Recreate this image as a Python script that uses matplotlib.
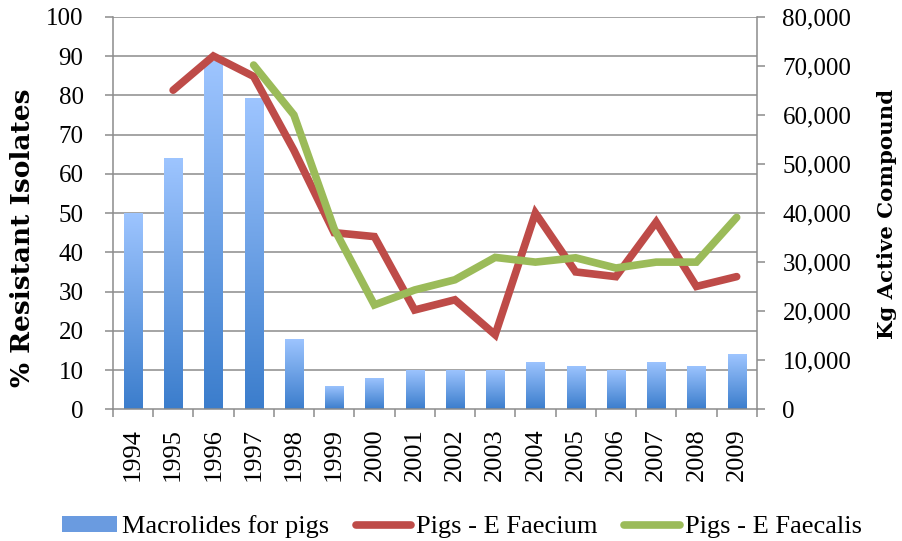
import matplotlib
matplotlib.use("Agg")
import matplotlib.pyplot as plt
from matplotlib.colors import LinearSegmentedColormap
from matplotlib.patches import Patch
from matplotlib.lines import Line2D
from matplotlib.ticker import FuncFormatter
import numpy as np

years = [str(y) for y in range(1994, 2010)]
macrolides_kg = [40000, 51200, 70900, 63400, 14400, 4800, 6400, 8000,
                 8000, 8000, 9600, 8800, 8000, 9600, 8800, 11200]
faecium_pct = [np.nan, 81.3, 90, 84.8, 66, 45, 44, 25.3,
               27.9, 19, 50, 35, 33.8, 47.7, 31.3, 33.8]
faecalis_pct = [np.nan, np.nan, np.nan, 87.7, 75, 46, 26.6, 30.4,
                33, 38.7, 37.5, 38.6, 36, 37.5, 37.5, 48.9]

plt.rcParams['font.family'] = ['Liberation Serif', 'DejaVu Serif']
grey = '#8c8c8c'
red = '#be4b48'
green = '#9bbb59'

fig = plt.figure(figsize=(9.02, 5.41), dpi=100)
ax = fig.add_axes([0.125, 0.2434, 0.714, 0.7256])
ax2 = ax.twinx()
ax.set_zorder(2)
ax2.set_zorder(1)
ax.patch.set_visible(False)

x = np.arange(len(years))

# grid lines follow the left (%) axis, drawn under the bars
for v in range(10, 101, 10):
    ax2.axhline(v * 800, color=grey, lw=1.1, zorder=0.5)

bars = ax2.bar(x, macrolides_kg, width=0.45, color='none', zorder=1)
cmap = LinearSegmentedColormap.from_list('bb', ['#3b7dcc', '#9ec5ff'])
grad = np.linspace(1, 0, 256).reshape(-1, 1)
for p in bars.patches:
    x0, w, h = p.get_x(), p.get_width(), p.get_height()
    im = ax2.imshow(grad, extent=[x0, x0 + w, 0, h], origin='upper',
                    aspect='auto', cmap=cmap, zorder=1)
    im.set_clip_path(p)

ax.plot(x, faecium_pct, color=red, lw=5.5, solid_capstyle='round',
        solid_joinstyle='miter')
ax.plot(x, faecalis_pct, color=green, lw=5.5, solid_capstyle='round',
        solid_joinstyle='miter')

ax.set_xlim(-0.5, len(years) - 0.5)
ax.set_ylim(0, 100)
ax2.set_ylim(0, 80000)
ax2.set_xlim(-0.5, len(years) - 0.5)

ax.set_yticks(range(0, 101, 10))
ax2.set_yticks(range(0, 80001, 10000))
ax2.yaxis.set_major_formatter(FuncFormatter(lambda v, p: f'{int(v):,}'))

ax.set_xticks(x)
ax.set_xticklabels(years, rotation=90)
ax.set_xticks(np.arange(-0.5, len(years)), minor=True)
ax.tick_params(axis='x', which='major', length=0, pad=13.5, labelsize=19)
ax.tick_params(axis='x', which='minor', length=6, width=1.1, color=grey)
ax.tick_params(axis='y', length=6, width=1.1, color=grey, labelsize=18, pad=15)
ax2.tick_params(axis='y', length=6, width=1.1, color=grey, labelsize=18, pad=12.5)

for s in ['top', 'right']:
    ax.spines[s].set_visible(False)
ax.spines['left'].set_color(grey)
ax.spines['bottom'].set_color(grey)
ax.spines['left'].set_linewidth(1.1)
ax.spines['bottom'].set_linewidth(1.1)
for s in ['top', 'left', 'bottom']:
    ax2.spines[s].set_visible(False)
ax2.spines['right'].set_color(grey)
ax2.spines['right'].set_linewidth(1.1)

fig.text(0.025, 0.56, '% Resistant Isolates', rotation=90, ha='center',
         va='center', fontsize=19, fontweight='bold', family='DejaVu Serif')
fig.text(0.983, 0.604, 'Kg Active Compound', rotation=90, ha='center',
         va='center', fontsize=15.3, fontweight='bold', family='DejaVu Serif')

handles = [Patch(facecolor='#6a9be0', edgecolor='none'),
           Line2D([], [], color=red, lw=5.5, solid_capstyle='round'),
           Line2D([], [], color=green, lw=5.5, solid_capstyle='round')]
labels = ['Macrolides for pigs', 'Pigs - E Faecium', 'Pigs - E Faecalis']
fig.legend(handles, labels, loc='center', bbox_to_anchor=(0.512, 0.026),
           ncol=3, frameon=False, fontsize=19, handlelength=2.1,
           handletextpad=0.2, columnspacing=1.0, handleheight=0.55,
           borderpad=0, borderaxespad=0)

fig.savefig('out.png', dpi=100)
